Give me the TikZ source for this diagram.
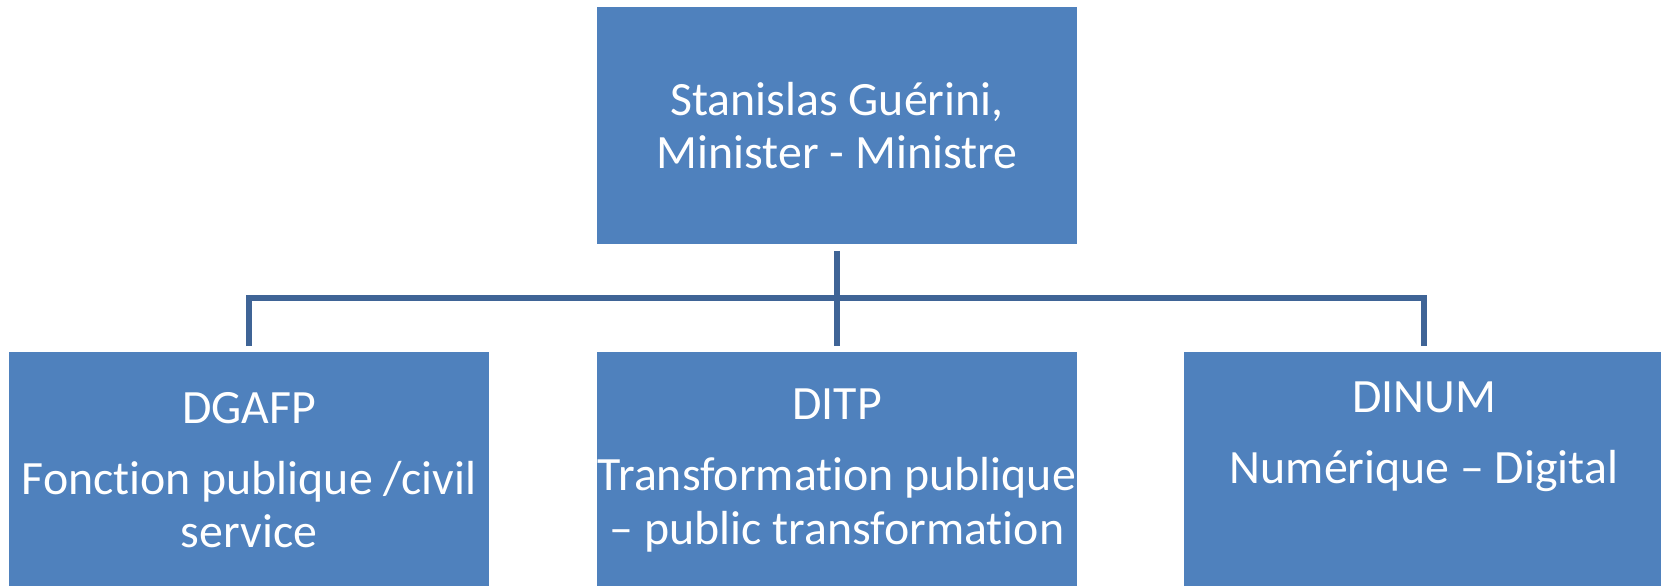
\documentclass[tikz,border=0pt]{standalone}
\usepackage{fontspec}
\setmainfont{Carlito}[Ligatures=TeX]
\usepackage{tikz}

\definecolor{boxblue}{HTML}{4F81BD}
\definecolor{linkblue}{HTML}{3F6496}

% keep "t" and "i" apart (no ti ligature)
\newcommand{\nolig}{\kern0pt}

\tikzset{
  unit/.style={fill=boxblue, text=white, inner sep=0pt,
    minimum width=4.8cm, minimum height=2.37cm, align=center,
    font=\fontsize{13.6}{15.1}\selectfont},
  link/.style={draw=linkblue, line width=1.6pt,
    shorten <=0.05cm, shorten >=0.05cm}
}

\begin{document}
\begin{tikzpicture}[x=0.01cm, y=-0.01cm]
    \useasboundingbox (0,0) rectangle (1661,586);

    % head of the ministry
    \node[unit] (minister) at (837,125.5) {Stanislas Guérini,\\Minister - Ministre};

    % the three directorates
    \node[unit] (dgafp) at (249,470.5) {DGAFP\\[0.18cm]Fonct\nolig ion publique /civil\\service};
    \node[unit] (ditp) at (837,470.5) {DITP\\[0.18cm]Transformat\nolig ion publique\\– public transformat\nolig ion};
    \node[unit] (dinum) at (1424,470.5) {DINUM\\[0.18cm]Numérique – Digital\\[0.23cm]\mbox{}};

    \coordinate (bar) at (837,298);
    \draw[link, shorten <=0.06cm] (minister) -- (ditp);
    \draw[link] (dgafp) |- (bar) -| (dinum);
\end{tikzpicture}
\end{document}
